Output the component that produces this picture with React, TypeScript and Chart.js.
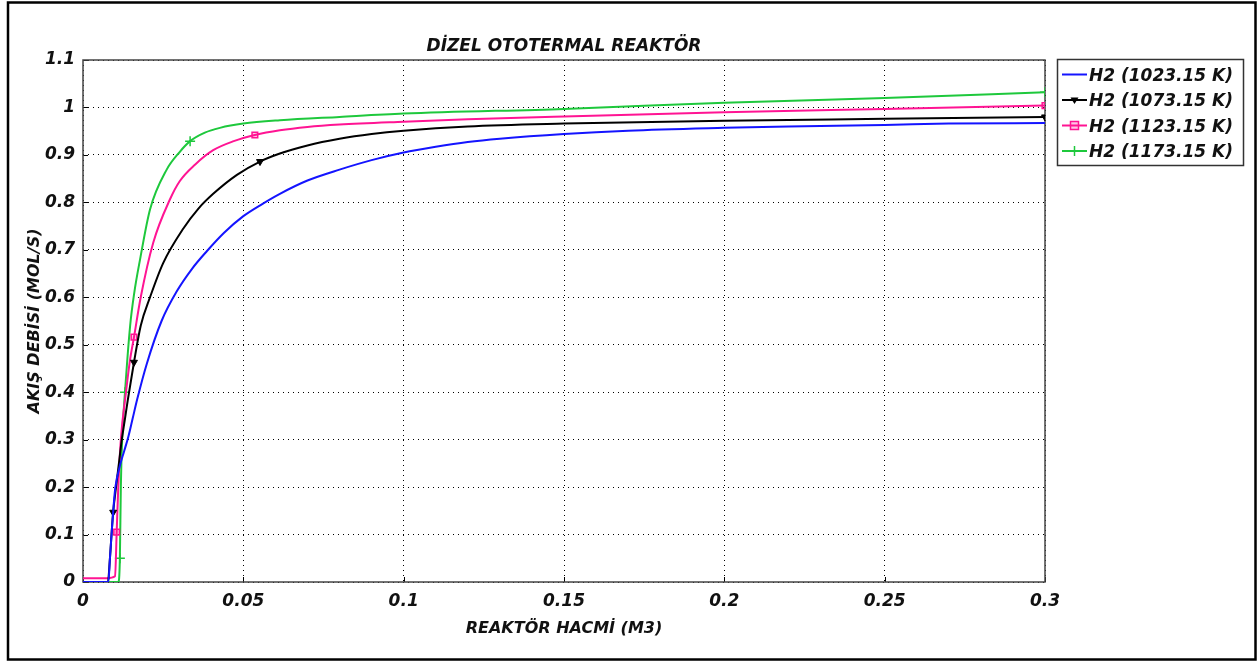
import { useEffect, useRef } from 'react';
import { Chart, registerables } from 'chart.js';

Chart.register(...registerables);

const FONT = "'DejaVu Sans', Verdana, sans-serif";

const chartTitle = 'DİZEL OTOTERMAL REAKTÖR';
const xAxisTitle = 'REAKTÖR HACMİ (M3)';
const yAxisTitle = 'AKIŞ DEBİSİ (MOL/S)';

const xTickValues = [0, 0.05, 0.1, 0.15, 0.2, 0.25, 0.3];
const xTickLabels = ['0', '0.05', '0.1', '0.15', '0.2', '0.25', '0.3'];
const yTickValues = [0, 0.1, 0.2, 0.3, 0.4, 0.5, 0.6, 0.7, 0.8, 0.9, 1.0, 1.1];
const yTickLabels = ['0', '0.1', '0.2', '0.3', '0.4', '0.5', '0.6', '0.7', '0.8', '0.9', '1', '1.1'];

const seriesLabels = ['H2 (1023.15 K)', 'H2 (1073.15 K)', 'H2 (1123.15 K)', 'H2 (1173.15 K)'];
const seriesColors = ['#1414ff', '#000000', '#ff1493', '#1ec83c'];

// 1023.15 K
const xBlue = [0, 0.0079, 0.0084, 0.009, 0.0096, 0.0101, 0.0115, 0.0128, 0.0141, 0.0155, 0.0169, 0.0199, 0.0245, 0.0292, 0.034, 0.0386, 0.044, 0.05, 0.056, 0.0614, 0.07, 0.08, 0.09, 0.1, 0.11, 0.12, 0.13, 0.15, 0.17, 0.2, 0.22, 0.25, 0.27, 0.3];
const yBlue = [0, 0, 0.05, 0.11, 0.165, 0.2, 0.245, 0.275, 0.305, 0.345, 0.385, 0.46, 0.55, 0.612, 0.66, 0.697, 0.736, 0.771, 0.797, 0.818, 0.846, 0.869, 0.889, 0.905, 0.917, 0.927, 0.934, 0.944, 0.951, 0.957, 0.96, 0.963, 0.966, 0.967];
const markersBlue: number[] = [];

// 1073.15 K
const xBlack = [0, 0.0078, 0.0082, 0.0088, 0.0094, 0.0103, 0.0112, 0.0121, 0.013, 0.014, 0.0159, 0.018, 0.0209, 0.025, 0.0313, 0.036, 0.0406, 0.048, 0.0552, 0.0614, 0.07, 0.08, 0.09, 0.1, 0.12, 0.15, 0.2, 0.25, 0.3];
const yBlack = [0, 0, 0.03, 0.09, 0.147, 0.2, 0.25, 0.3, 0.34, 0.385, 0.463, 0.54, 0.6, 0.672, 0.745, 0.787, 0.818, 0.858, 0.886, 0.903, 0.92, 0.934, 0.944, 0.951, 0.96, 0.966, 0.972, 0.976, 0.98];
const markersBlack = [4, 10, 18, 28];

// 1123.15 K
const xPink = [0, 0.0075, 0.01, 0.0105, 0.011, 0.0118, 0.0134, 0.0146, 0.0159, 0.018, 0.0219, 0.0271, 0.0302, 0.035, 0.0406, 0.047, 0.0536, 0.0614, 0.07, 0.08, 0.1, 0.12, 0.15, 0.2, 0.25, 0.3];
const yPink = [0.008, 0.008, 0.012, 0.105, 0.2, 0.3, 0.4, 0.465, 0.516, 0.6, 0.715, 0.806, 0.845, 0.88, 0.91, 0.929, 0.942, 0.952, 0.959, 0.964, 0.97, 0.975, 0.981, 0.99, 0.997, 1.004];
const markersPink = [3, 8, 16, 25];

// 1173.15 K
const xGreen = [0, 0.011, 0.0115, 0.0118, 0.0122, 0.0131, 0.0147, 0.016, 0.0178, 0.0209, 0.0261, 0.03, 0.0334, 0.038, 0.0427, 0.05, 0.0614, 0.08, 0.1, 0.15, 0.2, 0.25, 0.3];
const yGreen = [0, 0, 0.05, 0.2, 0.3, 0.4, 0.54, 0.61, 0.68, 0.785, 0.869, 0.905, 0.929, 0.947, 0.957, 0.966, 0.973, 0.98, 0.987, 0.997, 1.01, 1.02, 1.032];
const markersGreen = [2, 5, 12, 22];

const seriesX = [xBlue, xBlack, xPink, xGreen];
const seriesY = [yBlue, yBlack, yPink, yGreen];
const seriesMarkers = [markersBlue, markersBlack, markersPink, markersGreen];
const seriesPointStyle = ['circle', 'triangle', 'rect', 'cross'];

function drawLegendMarker(ctx: CanvasRenderingContext2D, i: number, x: number, y: number) {
  const c = seriesColors[i];
  ctx.save();
  if (i === 1) {
    ctx.fillStyle = c;
    ctx.beginPath();
    ctx.moveTo(x - 4, y - 2.5);
    ctx.lineTo(x + 4, y - 2.5);
    ctx.lineTo(x, y + 4);
    ctx.closePath();
    ctx.fill();
  } else if (i === 2) {
    ctx.fillStyle = 'rgba(255,20,147,0.25)';
    ctx.strokeStyle = c;
    ctx.lineWidth = 1.5;
    ctx.fillRect(x - 4, y - 4, 8, 8);
    ctx.strokeRect(x - 4, y - 4, 8, 8);
  } else if (i === 3) {
    ctx.strokeStyle = c;
    ctx.lineWidth = 1.5;
    ctx.beginPath();
    ctx.moveTo(x, y - 5);
    ctx.lineTo(x, y + 5);
    ctx.stroke();
  }
  ctx.restore();
}

const decorPlugin = {
  id: 'decor',
  beforeDraw(chart: any) {
    const { ctx, chartArea: a } = chart;
    ctx.save();
    ctx.fillStyle = '#ffffff';
    ctx.fillRect(0, 0, chart.width, chart.height);
    ctx.strokeStyle = '#000';
    ctx.lineWidth = 2.5;
    ctx.strokeRect(8, 2.5, 1247.5, 657);
    ctx.fillStyle = '#111';
    ctx.font = `italic bold 17px ${FONT}`;
    ctx.textAlign = 'center';
    ctx.textBaseline = 'middle';
    ctx.fillText(chartTitle, (a.left + a.right) / 2, 47);
    ctx.restore();
  },
  beforeDatasetsDraw(chart: any) {
    const { ctx, chartArea: a, scales } = chart;
    ctx.save();
    ctx.strokeStyle = '#000';
    ctx.lineWidth = 1;
    ctx.beginPath();
    scales.y.ticks.forEach((t: any) => {
      const y = Math.round(scales.y.getPixelForValue(t.value)) + 0.5;
      ctx.moveTo(a.left, y);
      ctx.lineTo(a.left + 5, y);
    });
    scales.x.ticks.forEach((t: any) => {
      const x = Math.round(scales.x.getPixelForValue(t.value)) + 0.5;
      ctx.moveTo(x, a.bottom);
      ctx.lineTo(x, a.bottom - 5);
    });
    ctx.stroke();
    ctx.strokeStyle = '#444';
    ctx.lineWidth = 1.5;
    ctx.strokeRect(a.left, a.top, a.right - a.left, a.bottom - a.top);
    ctx.restore();
  },
  afterDraw(chart: any) {
    const { ctx } = chart;
    ctx.save();
    ctx.strokeStyle = '#333';
    ctx.lineWidth = 1.5;
    ctx.strokeRect(1057.5, 59.5, 186, 106);
    ctx.font = `italic bold 17px ${FONT}`;
    ctx.textBaseline = 'middle';
    ctx.textAlign = 'left';
    seriesLabels.forEach((label, i) => {
      const y = 74.5 + i * 25.5;
      ctx.strokeStyle = seriesColors[i];
      ctx.lineWidth = 2;
      ctx.beginPath();
      ctx.moveTo(1062, y);
      ctx.lineTo(1087, y);
      ctx.stroke();
      drawLegendMarker(ctx, i, 1074.5, y);
      ctx.fillStyle = '#111';
      ctx.fillText(label, 1089, y + 2);
    });
    ctx.restore();
  },
};

export default function App() {
  const canvasRef = useRef<HTMLCanvasElement | null>(null);

  useEffect(() => {
    const canvas = canvasRef.current;
    if (!canvas) return;
    const datasets = seriesLabels.map((label, i) => ({
      label,
      data: seriesX[i].map((x, j) => ({ x, y: seriesY[i][j] })),
      borderColor: seriesColors[i],
      backgroundColor: seriesColors[i],
      borderWidth: 2,
      cubicInterpolationMode: 'monotone' as const,
      pointStyle: seriesPointStyle[i] as any,
      pointRotation: i === 1 ? 180 : 0,
      pointRadius: (c: any) => (seriesMarkers[i].includes(c.dataIndex) ? (i === 3 ? 5 : 4) : 0),
      pointBorderWidth: i === 1 ? 1 : 1.5,
      pointBackgroundColor: i === 2 ? 'rgba(255,20,147,0.25)' : seriesColors[i],
      pointBorderColor: seriesColors[i],
      pointHoverRadius: 0,
    }));

    const tickFont = { family: FONT, size: 17, style: 'italic' as const, weight: 'bold' as const };
    const titleFont = { family: FONT, size: 16, style: 'italic' as const, weight: 'bold' as const };

    const chart = new Chart(canvas, {
      type: 'line',
      data: { datasets },
      plugins: [decorPlugin],
      options: {
        animation: false,
        responsive: false,
        events: [],
        layout: { padding: { left: 8, top: 60, right: 214, bottom: 0 } },
        plugins: {
          legend: { display: false },
          tooltip: { enabled: false },
          title: { display: false },
        },
        scales: {
          x: {
            type: 'linear',
            min: 0,
            max: 0.3,
            afterBuildTicks: (scale: any) => {
              scale.ticks = xTickValues.map((v) => ({ value: v }));
            },
            afterFit: (scale: any) => {
              scale.height = 81;
            },
            ticks: {
              color: '#111',
              font: tickFont,
              padding: 9,
              maxRotation: 0,
              autoSkip: false,
              callback: (_v: any, idx: number) => xTickLabels[idx],
            },
            grid: { color: '#000', lineWidth: 1, drawTicks: false },
            border: { display: false, dash: [1, 4] },
            title: {
              display: true,
              text: xAxisTitle,
              color: '#111',
              font: titleFont,
              padding: { top: 0, bottom: 25 },
            },
          },
          y: {
            type: 'linear',
            min: 0,
            max: 1.1,
            afterBuildTicks: (scale: any) => {
              scale.ticks = yTickValues.map((v) => ({ value: v }));
            },
            afterFit: (scale: any) => {
              scale.width = 75;
            },
            ticks: {
              color: '#111',
              font: tickFont,
              padding: 8,
              autoSkip: false,
              callback: (_v: any, idx: number) => yTickLabels[idx],
            },
            grid: { color: '#000', lineWidth: 1, drawTicks: false },
            border: { display: false, dash: [1, 4] },
            title: {
              display: true,
              text: yAxisTitle,
              color: '#111',
              font: titleFont,
              padding: { top: 17, bottom: 0 },
            },
          },
        },
      },
    });
    return () => chart.destroy();
  }, []);

  return (
    <div style={{ position: 'absolute', left: 0, top: 0, width: 1259, height: 663 }}>
      <canvas ref={canvasRef} width={1259} height={663} style={{ display: 'block', width: 1259, height: 663 }} />
    </div>
  );
}
